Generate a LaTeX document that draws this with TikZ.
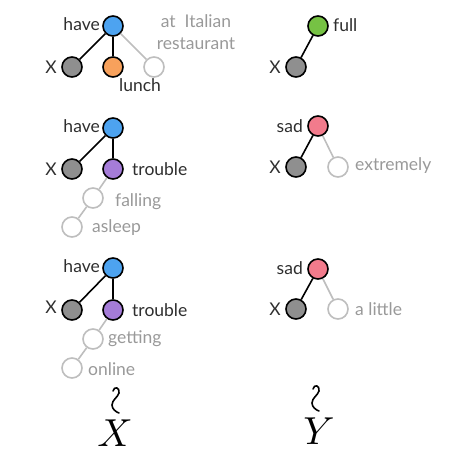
\documentclass[tikz,border=0pt]{standalone}
\usepackage{fontspec}
\usepackage{graphicx}
\setmainfont{Lato}
\definecolor{cblue}{HTML}{4DA3F0}
\definecolor{corange}{HTML}{F7A15C}
\definecolor{cgreen}{HTML}{76C244}
\definecolor{cpurple}{HTML}{A57CD8}
\definecolor{cpink}{HTML}{F27B8C}
\definecolor{cgray}{HTML}{8F8F8F}
\definecolor{clight}{HTML}{BEBEBE}
\definecolor{ctext}{HTML}{2E2E2E}
\definecolor{cgtext}{HTML}{999999}
\tikzset{
  word/.style={circle,draw=black,line width=1.6pt,minimum size=20pt,inner sep=0pt},
  opt/.style={circle,draw=clight,line width=1.6pt,fill=white,minimum size=20pt,inner sep=0pt},
  dep/.style={draw=black,line width=1.6pt},
  odep/.style={draw=clight,line width=1.6pt},
  lab/.style={text=ctext,font=\fontsize{17.5}{19}\selectfont,inner sep=0pt},
  glab/.style={text=cgtext,font=\fontsize{17.5}{19}\selectfont,inner sep=0pt,align=center},
  big/.style={inner sep=0pt},
  squig/.pic={\draw[line width=1.6pt,line cap=round] (-3,-9) .. controls (-2,-14) and (4,-13) .. (3,-7) .. controls (2,-3) and (-4,0) .. (-4,5) .. controls (-4,9) and (0,12) .. (3,13);}
}
\begin{document}
\begin{tikzpicture}[x=1pt,y=-1pt]
\useasboundingbox (0,0) rectangle (450,453);
% panel 1 left
\node[word,fill=cblue] (h1) at (113,26) {};
\node[word,fill=cgray] (x1) at (72,67) {};
\node[word,fill=corange] (l1) at (113,67) {};
\node[opt] (o1) at (154,67) {};
\draw[odep] (h1) -- (o1);
\draw[dep] (h1) -- (x1);
\draw[dep] (h1) -- (l1);
\node[lab,anchor=east] (th1) at (100,24) {have};
\node[lab,anchor=east] (tx1) at (57,67) {X};
\node[lab,anchor=west] (tl1) at (119,85) {lunch};
\node[glab] (to1) at (196,32) {at\ \ Italian\\[3pt]restaurant};
% panel 1 right
\node[word,fill=cgreen] (f1) at (318,26) {};
\node[word,fill=cgray] (y1) at (296,67) {};
\draw[dep] (f1) -- (y1);
\node[lab,anchor=west] (tf1) at (333,25) {full};
\node[lab,anchor=east] (ty1) at (281,67) {X};
% panel 2 left
\node[word,fill=cblue] (h2) at (113,128) {};
\node[word,fill=cgray] (x2) at (72,169) {};
\node[word,fill=cpurple] (t2) at (113,169) {};
\node[opt] (a2) at (93,198) {};
\node[opt] (b2) at (72,227) {};
\draw[odep] (t2) -- (a2);
\draw[odep] (a2) -- (b2);
\draw[dep] (h2) -- (x2);
\draw[dep] (h2) -- (t2);
\node[lab,anchor=east] (th2) at (100,126) {have};
\node[lab,anchor=east] (tx2) at (57,169) {X};
\node[lab,anchor=west] (tt2) at (132,169) {trouble};
\node[glab,anchor=west] (ta2) at (115,202) {falling};
\node[glab,anchor=west] (tb2) at (92,228) {asleep};
% panel 2 right
\node[word,fill=cpink] (s2) at (318,126) {};
\node[word,fill=cgray] (y2) at (296,167) {};
\node[opt] (e2) at (338,167) {};
\draw[odep] (s2) -- (e2);
\draw[dep] (s2) -- (y2);
\node[lab,anchor=east] (ts2) at (303,126) {sad};
\node[lab,anchor=east] (ty2) at (281,167) {X};
\node[glab,anchor=west] (te2) at (355,166) {extremely};
% panel 3 left
\node[word,fill=cblue] (h3) at (113,268) {};
\node[word,fill=cgray] (x3) at (72,310) {};
\node[word,fill=cpurple] (t3) at (113,310) {};
\node[opt] (a3) at (93,339) {};
\node[opt] (b3) at (72,368) {};
\draw[odep] (t3) -- (a3);
\draw[odep] (a3) -- (b3);
\draw[dep] (h3) -- (x3);
\draw[dep] (h3) -- (t3);
\node[lab,anchor=east] (th3) at (100,266) {have};
\node[lab,anchor=east] (tx3) at (57,307) {X};
\node[lab,anchor=west] (tt3) at (132,310) {trouble};
\node[glab,anchor=west] (ta3) at (108,339) {getting};
\node[glab,anchor=west] (tb3) at (88,369) {online};
% panel 3 right
\node[word,fill=cpink] (s3) at (318,269) {};
\node[word,fill=cgray] (y3) at (296,309) {};
\node[opt] (e3) at (338,309) {};
\draw[odep] (s3) -- (e3);
\draw[dep] (s3) -- (y3);
\node[lab,anchor=east] (ts3) at (303,268) {sad};
\node[lab,anchor=east] (ty3) at (281,309) {X};
\node[glab,anchor=west] (te3) at (355,309) {a little};
% bottom symbols
\pic at (116,400) {squig};
\node[big] (bx) at (115,433) {\scalebox{3.9}{$X$}};
\pic at (316,398) {squig};
\node[big] (by) at (319,431) {\scalebox{3.9}{$Y$}};
\end{tikzpicture}
\end{document}
